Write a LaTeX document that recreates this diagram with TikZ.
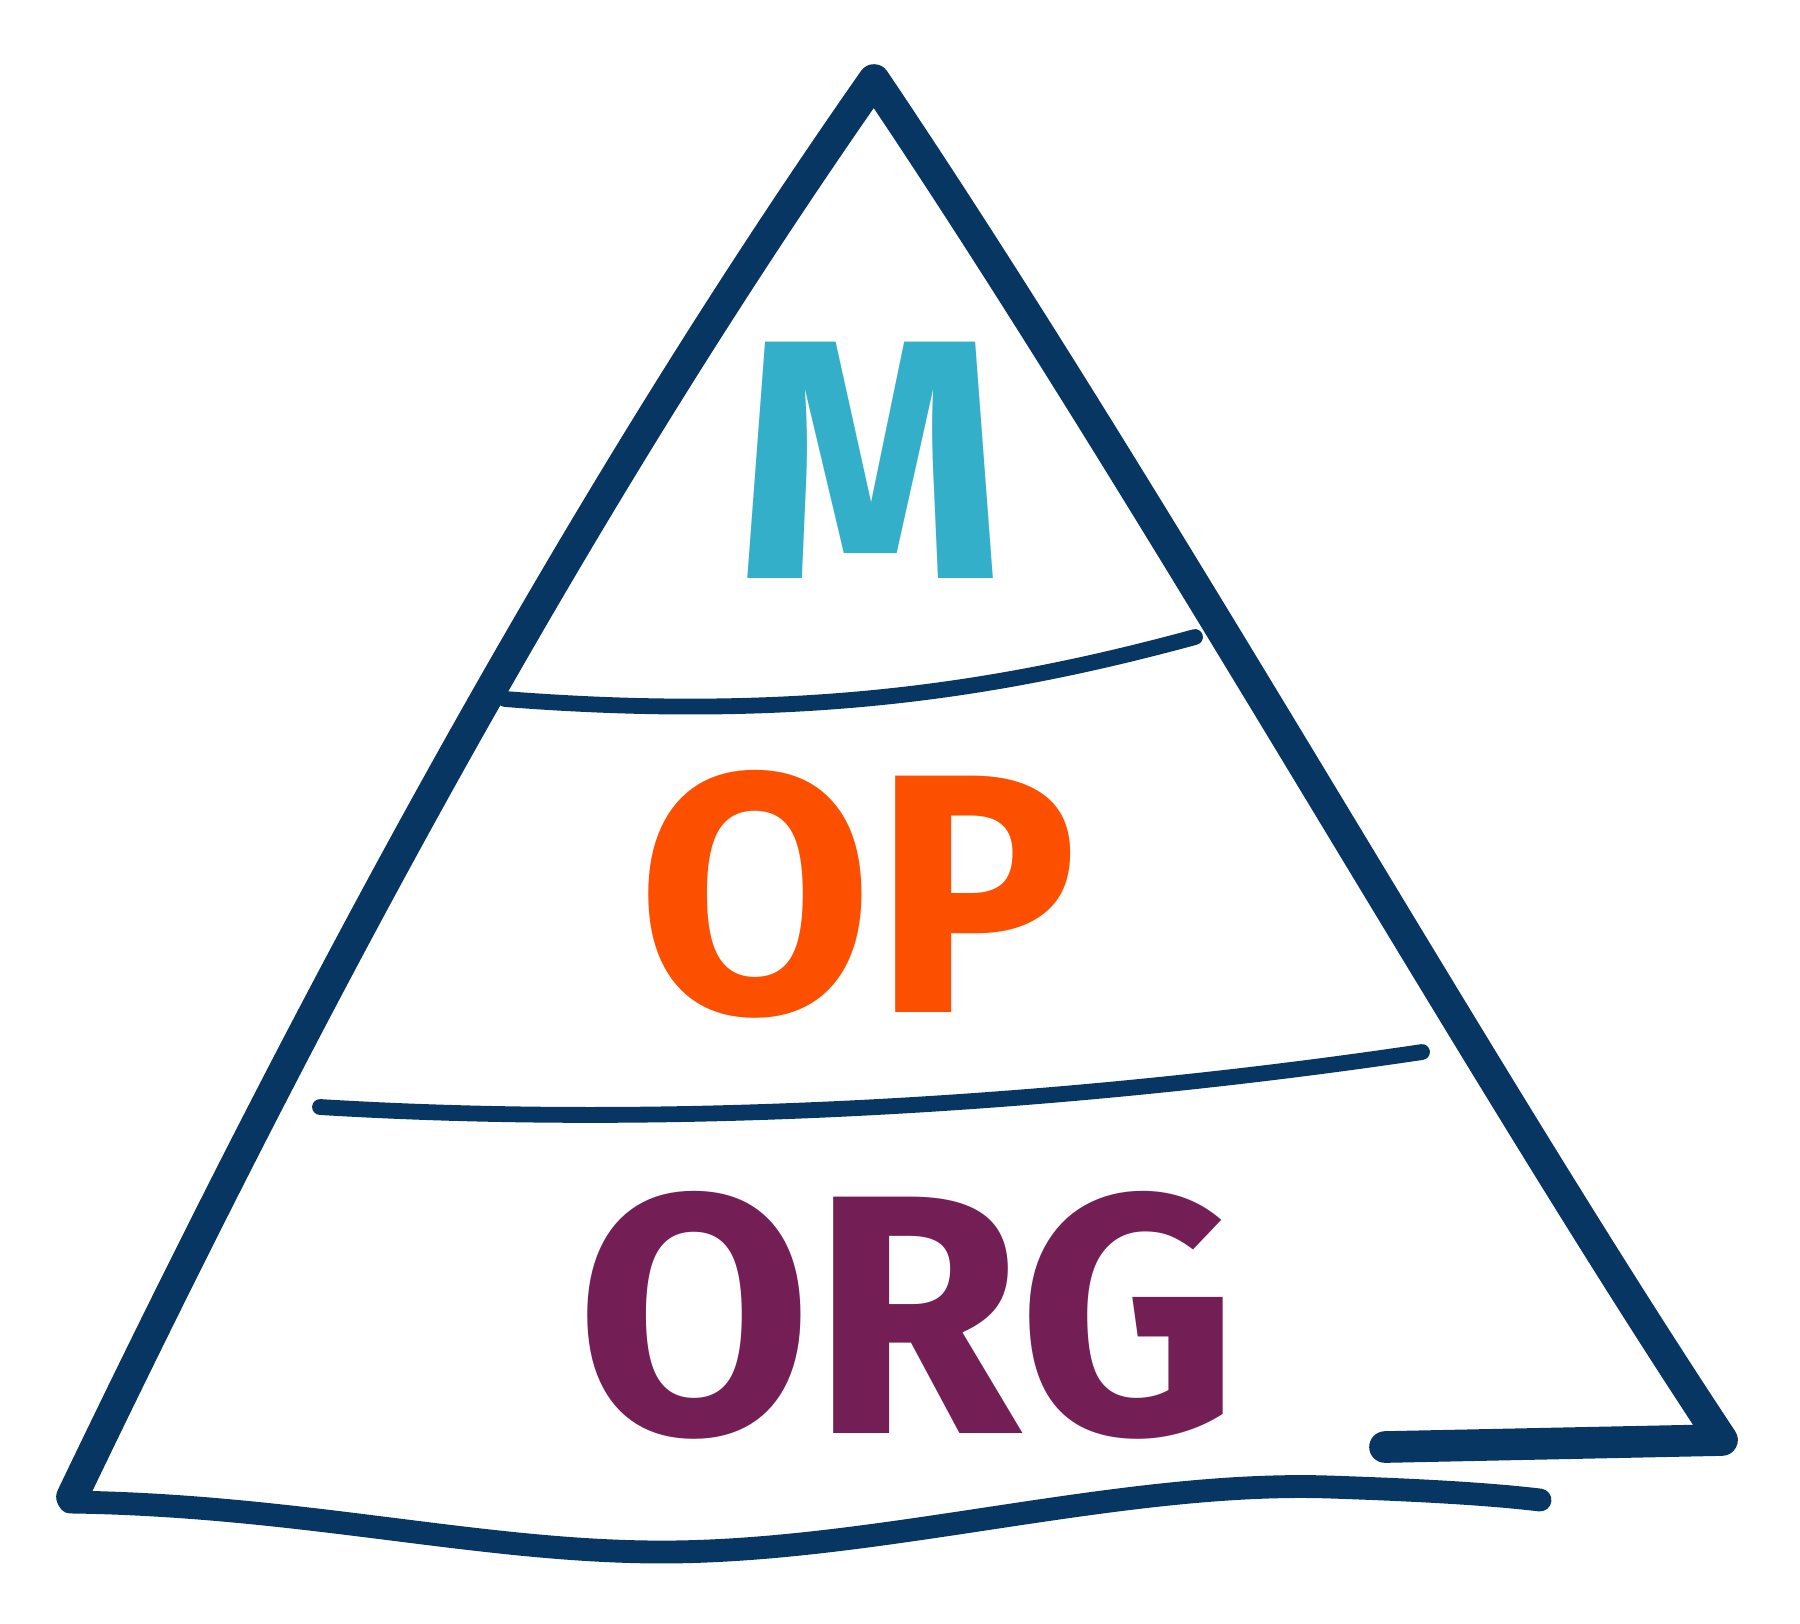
\documentclass[tikz,border=0pt]{standalone}
\usepackage{fontspec}
\setmainfont{Fira Sans}
\usepackage{xcolor}
\usetikzlibrary{positioning}

\definecolor{navy}{HTML}{073662}
\definecolor{mcyan}{HTML}{33AFCA}
\definecolor{oporange}{HTML}{FC5000}
\definecolor{orgpurple}{HTML}{731F56}

\begin{document}
\begin{tikzpicture}[x=0.01cm, y=-0.01cm,
    edge/.style={draw=navy, line width=9pt, line cap=round, line join=round},
    floor/.style={draw=navy, line width=4.5pt, line cap=round},
    word/.style={inner sep=0pt, font=\fontsize{97}{100}\selectfont\bfseries}]

  % Fix the page size
  \useasboundingbox (0, 0) rectangle (1800, 1623);

  % Define the corners of the pyramid
  \coordinate (top) at (874, 80);
  \coordinate (left) at (72, 1497);
  \coordinate (right) at (1722, 1440);
  \coordinate (foot) at (1385, 1447);

  % Draw the sides of the pyramid
  \draw[edge] (left) .. controls (320, 980) and (580, 500) .. (top)
              .. controls (1160, 505) and (1470, 1060) .. (right) -- (foot);

  % Draw the wavy base
  \draw[edge, line width=6.5pt] (70, 1502) .. controls (300, 1505) and (480, 1552) .. (662, 1552)
      .. controls (880, 1552) and (1120, 1480) .. (1330, 1487)
      .. controls (1420, 1490) and (1490, 1494) .. (1540, 1500);

  % Draw the lines between the floors
  \draw[floor] (505, 699) .. controls (800, 722) and (1000, 690) .. (1195, 637);
  \draw[floor] (320, 1107) .. controls (700, 1130) and (1100, 1100) .. (1422, 1052);

  % Define the words in each floor
  \node[word, text=mcyan] (m) at (871, 460) {M};
  \node[word, text=oporange] (op) at (858, 894) {OP};
  \node[word, text=orgpurple] (org) at (907, 1315) {ORG};
\end{tikzpicture}
\end{document}
